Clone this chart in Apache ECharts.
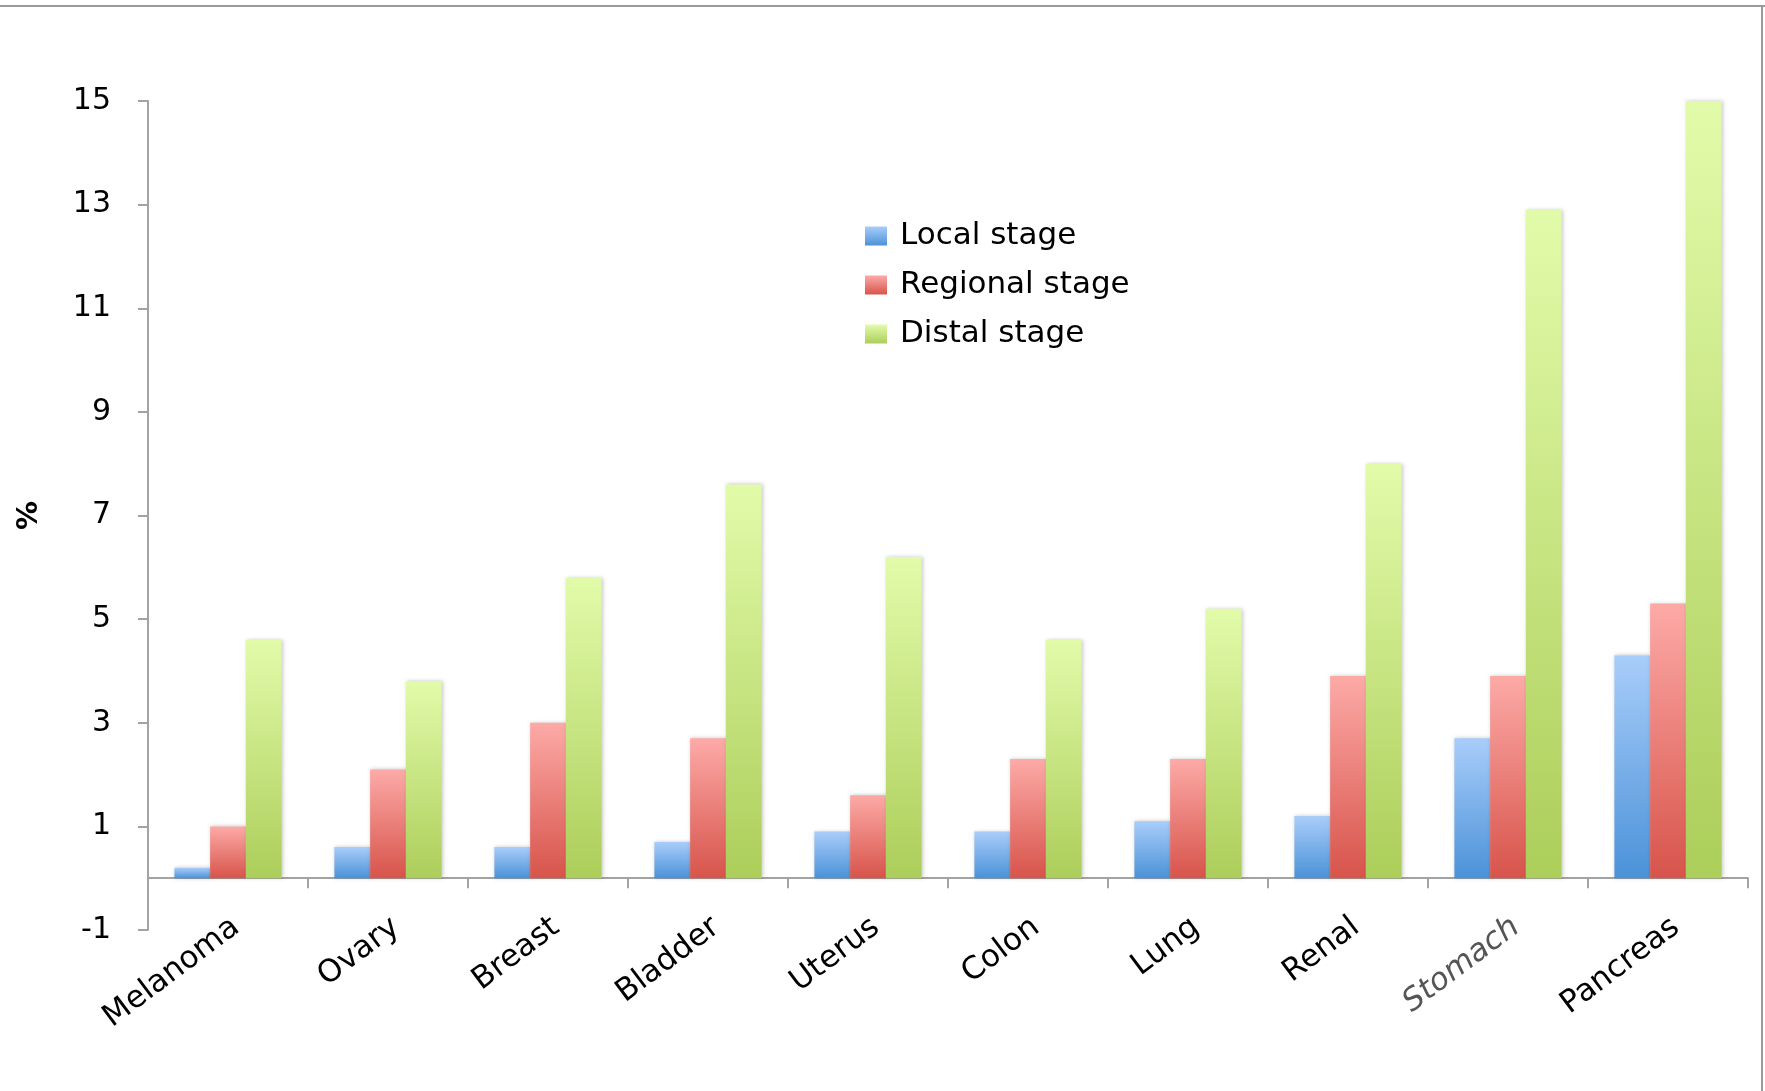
<!DOCTYPE html>
<html>
<head>
<meta charset="utf-8">
<script src="https://cdn.jsdelivr.net/npm/echarts@6/dist/echarts.min.js"></script>
<style>
  html, body { margin: 0; padding: 0; background: #ffffff; }
  #chart { width: 1765px; height: 1091px; }
</style>
</head>
<body>
<div id="chart"></div>
<script>
// Cancer sites and the share (%) for each stage at diagnosis
const categories = ['Melanoma', 'Ovary', 'Breast', 'Bladder', 'Uterus', 'Colon', 'Lung', 'Renal', 'Stomach', 'Pancreas'];
const localStage    = [0.2, 0.6, 0.6, 0.7, 0.9, 0.9, 1.1, 1.2, 2.7, 4.3];
const regionalStage = [1.0, 2.1, 3.0, 2.7, 1.6, 2.3, 2.3, 3.9, 3.9, 5.3];
const distalStage   = [4.6, 3.8, 5.8, 7.6, 6.2, 4.6, 5.2, 8.0, 12.9, 15.0];
const seriesNames = ['Local stage', 'Regional stage', 'Distal stage'];

const FONT = '"DejaVu Sans", "Noto Sans", sans-serif';

function grad(top, bottom) {
  return new echarts.graphic.LinearGradient(0, 0, 0, 1, [
    { offset: 0, color: top },
    { offset: 1, color: bottom }
  ]);
}

const palette = [
  grad('#a9cdfa', '#4b92d8'),
  grad('#fdaaa7', '#d7544b'),
  grad('#e2fbaa', '#acce5a')
];

function barSeries(name, data, color) {
  return {
    name: name,
    type: 'bar',
    data: data,
    barGap: '0%',
    barCategoryGap: '33%',
    itemStyle: {
      color: color,
      shadowColor: 'rgba(0,0,0,0.22)',
      shadowBlur: 4,
      shadowOffsetX: 1,
      shadowOffsetY: 0
    }
  };
}

const xLabels = categories.map(c => c === 'Stomach'
  ? { value: c, textStyle: { fontStyle: 'italic', color: '#555555' } }
  : c);

const chart = echarts.init(document.getElementById('chart'), null, { renderer: 'canvas' });
chart.setOption({
  animation: false,
  backgroundColor: '#ffffff',
  grid: { left: 148, right: 17, top: 101, bottom: 161 },
  legend: {
    orient: 'vertical',
    left: 860,
    top: 215,
    icon: 'rect',
    itemWidth: 22,
    itemHeight: 19,
    itemGap: 17,
    textStyle: { fontFamily: FONT, fontSize: 31, color: '#000', lineHeight: 32, padding: [0, 0, 0, 8] },
    data: seriesNames
  },
  xAxis: {
    type: 'category',
    data: xLabels,
    axisLine: { onZero: true, lineStyle: { color: '#a3a3a3', width: 2 } },
    axisTick: { show: true, length: 10, lineStyle: { color: '#a3a3a3', width: 2 } },
    axisLabel: {
      interval: 0,
      rotate: 37,
      margin: 0,
      padding: [0, -10, 0, 0],
      fontFamily: FONT,
      fontSize: 31,
      color: '#000'
    }
  },
  yAxis: {
    type: 'value',
    min: -1,
    max: 15,
    interval: 2,
    name: '%',
    nameLocation: 'middle',
    nameGap: 104,
    nameRotate: 90,
    nameTextStyle: { fontFamily: FONT, fontSize: 29, fontWeight: 'bold', color: '#000' },
    splitLine: { show: false },
    axisLine: { show: true, lineStyle: { color: '#a3a3a3', width: 2 } },
    axisTick: { show: true, length: 10, lineStyle: { color: '#a3a3a3', width: 2 } },
    axisLabel: { fontFamily: FONT, fontSize: 30, color: '#000', margin: 37 }
  },
  series: [
    barSeries(seriesNames[0], localStage, palette[0]),
    barSeries(seriesNames[1], regionalStage, palette[1]),
    barSeries(seriesNames[2], distalStage, palette[2])
  ],
  graphic: [
    { type: 'line', shape: { x1: 0, y1: 6, x2: 1765, y2: 6 }, style: { stroke: '#9a9a9a', lineWidth: 2 } },
    { type: 'line', shape: { x1: 1762, y1: 6, x2: 1762, y2: 1091 }, style: { stroke: '#9a9a9a', lineWidth: 2 } }
  ]
});
</script>
</body>
</html>
